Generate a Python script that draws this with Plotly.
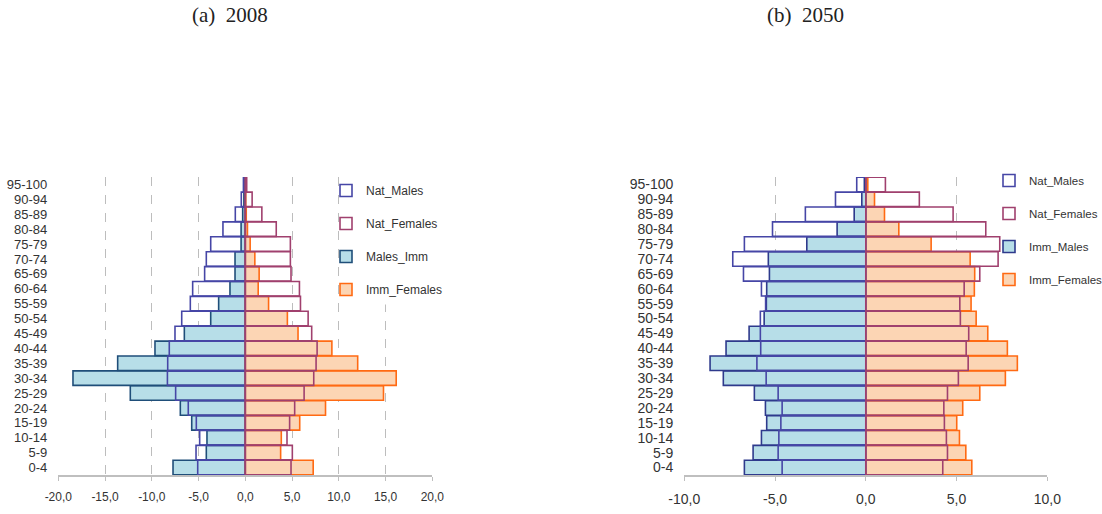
import plotly.graph_objects as go

# ---------------- data ----------------
ages = ["0-4", "5-9", "10-14", "15-19", "20-24", "25-29", "30-34", "35-39",
        "40-44", "45-49", "50-54", "55-59", "60-64", "65-69", "70-74", "75-79",
        "80-84", "85-89", "90-94", "95-100"]

# 2008 (percent, males negative)
nat_males_2008 = [-5.09, -5.27, -4.88, -5.24, -6.10, -7.45, -8.33, -8.30, -8.13, -7.52,
                  -6.80, -5.88, -5.63, -4.35, -4.17, -3.70, -2.39, -1.07, -0.43, -0.20]
imm_males_2008 = [-7.73, -4.17, -4.10, -5.73, -6.95, -12.30, -18.43, -13.65, -9.66, -6.52,
                  -3.70, -2.85, -1.64, -1.10, -1.10, -0.45, -0.45, -0.28, -0.15, -0.05]
nat_females_2008 = [4.89, 5.03, 4.46, 4.74, 5.28, 6.29, 7.32, 7.57, 7.68, 7.10,
                    6.72, 5.90, 5.79, 4.89, 4.82, 4.82, 3.31, 1.77, 0.73, 0.15]
imm_females_2008 = [7.26, 3.78, 3.85, 5.82, 8.58, 14.78, 16.14, 12.02, 9.26, 5.64,
                    4.50, 2.49, 1.38, 1.48, 1.02, 0.52, 0.23, 0.10, 0.05, 0.02]

# 2050
nat_males_2050 = [-4.61, -4.83, -4.79, -4.68, -4.61, -4.83, -5.49, -6.00, -5.79, -5.81,
                  -5.81, -5.52, -5.75, -6.74, -7.33, -6.69, -5.14, -3.33, -1.67, -0.50]
imm_males_2050 = [-6.69, -6.21, -5.75, -5.46, -5.53, -6.14, -7.85, -8.58, -7.70, -6.43,
                  -5.60, -5.48, -5.46, -5.31, -5.37, -3.25, -1.58, -0.64, -0.22, -0.08]
nat_females_2050 = [4.24, 4.50, 4.44, 4.33, 4.30, 4.50, 5.10, 5.64, 5.53, 5.67,
                    5.21, 5.18, 5.42, 6.28, 7.29, 7.38, 6.61, 4.81, 2.95, 1.08]
imm_females_2050 = [5.84, 5.51, 5.16, 5.01, 5.34, 6.28, 7.69, 8.35, 7.80, 6.72,
                    6.08, 5.80, 5.98, 6.00, 5.75, 3.60, 1.82, 1.03, 0.48, 0.11]

x_ticks_2008 = [-20, -15, -10, -5, 0, 5, 10, 15, 20]
x_labels_2008 = ["-20,0", "-15,0", "-10,0", "-5,0", "0,0", "5,0", "10,0", "15,0", "20,0"]
x_ticks_2050 = [-10, -5, 0, 5, 10]
x_labels_2050 = ["-10,0", "-5,0", "0,0", "5,0", "10,0"]

legend_names_2008 = ["Nat_Males", "Nat_Females", "Males_Imm", "Imm_Females"]
legend_names_2050 = ["Nat_Males", "Nat_Females", "Imm_Males", "Imm_Females"]
titles = ["(a)\u00a0\u00a02008", "(b)\u00a0\u00a02050"]

# ---------------- style ----------------
W, H = 1102, 514
def px(x): return x / W
def py(y): return 1 - y / H

SANS = "Liberation Sans, Arial, sans-serif"
SERIF = "Liberation Serif, DejaVu Serif, serif"
NAT_M = "#4646a6"
NAT_F = "#a0406e"
IMM_M_FILL = "#b7dee8"
IMM_F_FILL = "#fcd5b4"
IMM_F_LINE = "#ff6a13"
TXT = "#333333"
LW = 1.6

fig = go.Figure()

def add_bar(xv, name, fill, line, xa, ya, leg, rank):
    fig.add_trace(go.Bar(
        y=ages, x=xv, orientation="h", name=name,
        marker=dict(color=fill, line=dict(color=line, width=LW)),
        xaxis=xa, yaxis=ya, legend=leg, legendrank=rank,
        legendgroup=leg + name, hoverinfo="x+y+name",
    ))

# panel (a): immigrants first (underneath), natives as outlines on top
add_bar(imm_males_2008, legend_names_2008[2], IMM_M_FILL, "#1f4e79", "x", "y", "legend", 3)
add_bar(imm_females_2008, legend_names_2008[3], IMM_F_FILL, IMM_F_LINE, "x", "y", "legend", 4)
add_bar(nat_males_2008, legend_names_2008[0], "rgba(255,255,255,0)", NAT_M, "x", "y", "legend", 1)
add_bar(nat_females_2008, legend_names_2008[1], "rgba(255,255,255,0)", NAT_F, "x", "y", "legend", 2)

# panel (b)
add_bar(imm_males_2050, legend_names_2050[2], IMM_M_FILL, "#2e3a8c", "x2", "y2", "legend2", 3)
add_bar(imm_females_2050, legend_names_2050[3], IMM_F_FILL, IMM_F_LINE, "x2", "y2", "legend2", 4)
add_bar(nat_males_2050, legend_names_2050[0], "rgba(255,255,255,0)", NAT_M, "x2", "y2", "legend2", 1)
add_bar(nat_females_2050, legend_names_2050[1], "rgba(255,255,255,0)", NAT_F, "x2", "y2", "legend2", 2)

def xaxis(domain, rng, tv, tt, anchor, fs):
    return dict(domain=domain, range=rng, tickmode="array", tickvals=tv, ticktext=tt,
                anchor=anchor, automargin=False,
                showgrid=True, gridcolor="#bdbdbd", griddash="dash", gridwidth=1,
                zeroline=False, showline=True, linecolor="#bfbfbf", linewidth=1.5,
                ticks="outside", ticklen=4, tickcolor="#bfbfbf", ticklabelstandoff=6,
                tickfont=dict(family=SANS, size=fs, color=TXT), fixedrange=True)

def yaxis(anchor, fs):
    return dict(domain=[py(475), py(177)], type="category", categoryorder="array",
                categoryarray=ages, range=[-0.5, len(ages) - 0.5], anchor=anchor,
                tickmode="array", tickvals=ages, ticktext=ages, automargin=False,
                showgrid=False, zeroline=False, showline=False, ticks="",
                ticklabelstandoff=10,
                tickfont=dict(family=SANS, size=fs, color=TXT), fixedrange=True)

def legend(x, y, fs):
    return dict(x=px(x), y=py(y), xanchor="left", yanchor="top",
                bgcolor="rgba(255,255,255,0)",
                font=dict(family=SANS, size=fs, color=TXT),
                traceorder="grouped", tracegroupgap=14, borderwidth=0)

fig.update_layout(
    width=W, height=H, autosize=False,
    margin=dict(l=0, r=0, t=0, b=0, autoexpand=False),
    paper_bgcolor="white", plot_bgcolor="white",
    barmode="overlay", bargap=0.03,
    showlegend=True,
    xaxis=xaxis([px(58.3), px(432.3)], [-20, 20], x_ticks_2008, x_labels_2008, "y", 12),
    yaxis=yaxis("x", 13),
    xaxis2=xaxis([px(684.3), px(1047.3)], [-10, 10], x_ticks_2050, x_labels_2050, "y2", 14),
    yaxis2=yaxis("x2", 14),
    legend=legend(326, 176, 12),
    legend2=legend(989, 166, 11.5),
    # white backdrops behind the legends: above gridlines, under bars
    shapes=[
        dict(type="rect", xref="x", yref="y", x0=11.2, x1=21, y0=10.95, y1=20,
             fillcolor="white", line=dict(width=0), layer="between"),
        dict(type="rect", xref="x2", yref="y2", x0=9, x1=11, y0=11.55, y1=20,
             fillcolor="white", line=dict(width=0), layer="between"),
    ],
    annotations=[
        dict(text=titles[0], x=px(230), y=py(15), xref="paper", yref="paper",
             showarrow=False, xanchor="center", yanchor="middle",
             font=dict(family=SERIF, size=21, color="#222222")),
        dict(text=titles[1], x=px(805), y=py(15), xref="paper", yref="paper",
             showarrow=False, xanchor="center", yanchor="middle",
             font=dict(family=SERIF, size=21, color="#222222")),
    ],
)

fig.write_html("out.html")
